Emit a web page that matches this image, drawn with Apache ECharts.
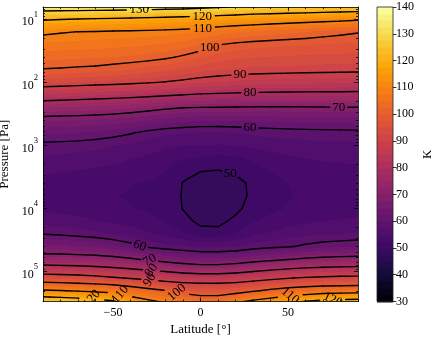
<!DOCTYPE html>
<html><head><meta charset="utf-8">
<script src="https://cdn.jsdelivr.net/npm/echarts@6/dist/echarts.min.js"></script>
<style>html,body{margin:0;padding:0;background:#fff}#c{width:436px;height:339px}</style>
</head><body><div id="c"></div>
<script>
// ---------------- data ----------------
const latitudes = [-90,-80,-70,-60,-50,-40,-30,-20,-10,0,10,20,30,40,50,60,70,80,90];
const pressures = [6.31,10,15.85,25.12,39.81,63.10,100,158.5,251.2,398.1,631.0,1000,1585,2512,3981,6310,10000,15849,25119,39811,50119,63096,79433,100000,125893,158489,199526,251189,316228];
// temperature[k] = profile (K) at latitudes[k], one value per pressure level
const temperature = [
[134.8,120.8,111.0,106.9,103.4,99.7,93.1,84.2,74.9,67.9,62.9,59.0,57.0,55.5,54.0,53.6,54.5,56.5,59.8,66.1,69.2,74.5,80.4,87.2,94.6,102.6,110.8,120.3,129.8],
[134.7,120.2,110.4,106.7,103.2,99.5,92.8,83.8,74.6,67.7,62.7,58.8,56.8,55.2,53.8,53.4,54.2,56.2,59.4,65.7,69.0,74.1,80.1,86.8,94.2,102.2,110.3,119.5,129.0],
[134.7,119.8,109.9,106.5,103.0,99.1,92.3,83.3,74.3,67.5,62.4,58.6,56.5,54.9,53.5,53.2,53.8,55.7,58.8,65.2,68.6,73.6,79.6,86.2,93.5,101.5,109.4,118.4,127.4],
[134.6,119.3,109.7,106.2,102.8,98.8,91.9,82.9,73.9,67.2,62.0,58.2,56.2,54.6,53.2,52.9,53.4,55.2,58.2,64.4,68.1,72.9,78.9,85.4,92.4,100.6,108.4,117.0,125.8],
[134.5,118.9,109.4,105.9,102.5,98.1,91.5,82.4,73.5,66.7,61.3,57.6,55.7,54.2,52.9,52.6,53.0,54.6,57.3,63.2,67.3,72.0,78.0,84.3,90.9,99.5,107.2,115.2,123.4],
[134.2,118.4,109.2,105.6,102.1,97.3,91.0,81.9,72.7,66.0,60.3,57.0,55.1,53.8,52.6,52.3,52.6,54.0,56.5,61.4,65.9,70.6,76.7,83.0,89.5,97.7,104.4,110.4,116.8],
[133.9,118.0,108.9,105.2,101.5,96.4,90.4,81.3,71.8,65.0,58.9,56.3,54.6,53.3,52.3,52.0,52.2,53.2,55.3,59.3,64.1,68.9,75.1,81.7,88.0,95.5,102.4,107.8,113.2],
[133.4,117.4,108.6,104.7,100.7,95.4,89.7,80.6,70.8,63.9,58.0,55.4,53.6,52.5,51.8,51.5,51.7,52.3,54.0,58.3,62.5,67.4,73.2,80.2,86.5,93.2,100.3,105.4,110.3],
[133.0,116.9,108.2,103.8,99.4,94.4,88.9,79.9,70.1,63.2,57.6,55.0,52.8,50.6,49.9,49.8,49.9,50.8,52.8,57.8,61.4,66.2,71.6,78.7,85.4,91.7,97.4,103.0,108.5],
[132.1,116.3,107.5,102.4,97.7,93.3,88.0,79.2,69.8,62.8,57.3,55.0,52.2,50.1,48.6,48.0,48.3,49.4,51.0,57.0,60.6,65.5,70.7,77.9,84.7,91.1,96.1,101.1,106.0],
[131.3,115.5,106.4,100.2,96.4,92.6,87.4,78.9,69.7,62.8,57.2,54.8,51.8,49.9,48.4,47.9,48.2,49.3,50.9,57.0,60.6,65.5,70.7,77.9,84.7,91.1,96.1,101.1,106.0],
[130.0,114.9,105.4,99.2,95.6,92.1,86.8,78.6,69.6,62.9,57.5,55.2,52.0,50.4,49.2,48.9,49.4,50.6,52.5,57.5,61.0,66.1,71.6,78.7,85.5,91.7,97.2,103.5,110.6],
[128.4,114.3,104.6,98.6,95.2,91.8,86.4,78.4,69.5,63.0,58.0,55.5,53.0,51.5,50.5,50.6,51.0,52.3,54.5,58.5,62.2,67.3,73.2,80.2,86.9,93.2,99.2,106.3,113.7],
[128.1,113.7,103.9,98.2,94.9,91.6,86.2,78.3,69.4,63.1,58.3,56.0,54.0,52.6,51.7,51.5,51.9,53.2,55.3,59.2,63.4,68.4,74.9,81.8,88.4,94.8,101.3,108.7,116.2],
[127.6,113.2,103.2,97.9,94.7,91.5,85.9,78.2,69.4,63.3,58.5,56.3,54.6,53.3,52.5,52.3,52.7,54.0,56.2,59.6,64.6,69.6,76.3,83.0,89.7,96.2,103.3,111.4,119.5],
[127.3,112.6,102.5,97.7,94.5,91.3,85.8,78.1,69.5,63.4,58.7,56.6,55.0,53.8,53.1,52.9,53.3,54.6,56.8,60.7,65.7,70.8,77.4,84.1,90.7,97.3,104.6,113.3,123.4],
[126.7,112.1,101.7,97.4,94.3,91.2,85.6,78.1,69.6,63.5,58.8,56.8,55.3,54.2,53.5,53.3,53.7,55.0,57.3,61.5,66.4,71.6,78.1,84.8,91.4,98.0,105.6,115.3,125.5],
[126.4,111.6,101.0,97.2,94.2,91.1,85.5,78.1,69.7,63.6,58.9,56.9,55.4,54.4,53.7,53.5,53.9,55.2,57.5,62.0,66.8,72.1,78.5,85.2,91.9,98.4,106.0,116.3,125.5],
[126.0,110.8,100.3,97.1,94.0,91.0,85.3,78.0,69.8,63.6,59.0,57.0,55.5,54.5,53.8,53.6,54.0,55.4,57.7,62.4,67.1,72.4,78.7,85.4,92.1,98.6,106.4,116.8,125.5]
];
const contourLevels = [50,60,70,80,90,100,110,120,130];
const colorbarTicks = [30,40,50,60,70,80,90,100,110,120,130,140];
const xTickValues = [-50,0,50];
const yTickExponents = [1,2,3,4,5];

// ---------------- styling / placement ----------------
const FONT = "'Liberation Serif','DejaVu Serif',serif";
const vmin = 30, vmax = 140, bandStep = 2.5;
const pMin = 6.4, pMax = 2.96e5;
// label placement hints (lat, pressure) and rotation (deg, ccw)
const contourLabels = [
  {level:130, lat:-35, p:7.1, rot:0},
  {level:120, lat:1, p:8.6, rot:0},
  {level:110, lat:1, p:12.3, rot:0},
  {level:100, lat:5, p:26.5, rot:0},
  {level:90, lat:22.6, p:82, rot:0},
  {level:80, lat:28.3, p:147, rot:0},
  {level:70, lat:79, p:245, rot:0},
  {level:60, lat:28.3, p:490, rot:0},
  {level:50, lat:17, p:2730, rot:0},
  {level:60, lat:-35, p:40700, rot:-20},
  {level:70, lat:-29, p:65300, rot:30},
  {level:80, lat:-28, p:94000, rot:55},
  {level:90, lat:-29, p:140000, rot:60},
  {level:100, lat:-13.6, p:218000, rot:40},
  {level:110, lat:-45.8, p:218000, rot:50},
  {level:120, lat:-62, p:243000, rot:50},
  {level:110, lat:51.3, p:243000, rot:-40},
  {level:120, lat:75.5, p:257000, rot:-25}
];

// inferno colormap stops
const infernoStops = [[0,'#000004'],[0.1,'#160b39'],[0.111,'#1b0c42'],[0.2,'#420a68'],[0.222,'#4b0c6b'],[0.3,'#6a176e'],[0.333,'#781c6d'],[0.4,'#932667'],[0.444,'#a52c60'],[0.5,'#bc3754'],[0.556,'#cf4446'],[0.6,'#dd513a'],[0.667,'#ed6925'],[0.7,'#f37819'],[0.778,'#fb9a06'],[0.8,'#fca50a'],[0.889,'#f7d03c'],[0.9,'#f6d746'],[1,'#fcffa4']];
function hexRgb(h){return [parseInt(h.slice(1,3),16),parseInt(h.slice(3,5),16),parseInt(h.slice(5,7),16)];}
const stopRgb = infernoStops.map(s=>[s[0],hexRgb(s[1])]);
function inferno(t){
  t=Math.max(0,Math.min(1,t));
  for(let k=1;k<stopRgb.length;k++){
    if(t<=stopRgb[k][0]){
      const a=stopRgb[k-1],b=stopRgb[k],f=(t-a[0])/(b[0]-a[0]);
      return [0,1,2].map(c=>Math.round(a[1][c]+(b[1][c]-a[1][c])*f));
    }
  }
  return stopRgb[stopRgb.length-1][1];
}
const nBands = Math.round((vmax-vmin)/bandStep);
const bandRGB = [];
for(let b=0;b<nBands;b++) bandRGB.push(inferno((b+0.5)*bandStep/(vmax-vmin)));
function bandOf(T){let b=Math.floor((T-vmin)/bandStep);return Math.max(0,Math.min(nBands-1,b));}

const logP = pressures.map(p=>Math.log10(p));
const NI = latitudes.length, NJ = pressures.length;

// field cells
const cells=[];
for(let i=0;i<NI-1;i++)for(let j=0;j<NJ-1;j++)cells.push([latitudes[i],logP[j],i,j]);

function clamp01(x){return x<0?0:(x>1?1:x);}
function renderCell(params, api){
  const i=api.value(2), j=api.value(3);
  const A=api.coord([latitudes[i],logP[j]]), B=api.coord([latitudes[i+1],logP[j+1]]);
  const X0=A[0],X1=B[0],Y0=A[1],Y1=B[1];
  const xa=Math.round(Math.min(X0,X1)), xb=Math.round(Math.max(X0,X1));
  const ya=Math.round(Math.min(Y0,Y1)), yb=Math.round(Math.max(Y0,Y1));
  const w=xb-xa,h=yb-ya; if(w<=0||h<=0) return null;
  const cv=document.createElement('canvas'); cv.width=w; cv.height=h;
  const ctx=cv.getContext('2d'); const img=ctx.createImageData(w,h);
  const t00=temperature[i][j],t10=temperature[i+1][j],t01=temperature[i][j+1],t11=temperature[i+1][j+1];
  for(let yy=0;yy<h;yy++){
    const v=clamp01((ya+yy+0.5-Y0)/(Y1-Y0));
    for(let xx=0;xx<w;xx++){
      const u=clamp01((xa+xx+0.5-X0)/(X1-X0));
      const T=(1-u)*(1-v)*t00+u*(1-v)*t10+(1-u)*v*t01+u*v*t11;
      const c=bandRGB[bandOf(T)]; const k=(yy*w+xx)*4;
      img.data[k]=c[0];img.data[k+1]=c[1];img.data[k+2]=c[2];img.data[k+3]=255;
    }
  }
  ctx.putImageData(img,0,0);
  return {type:'image',style:{image:cv,x:xa,y:ya,width:w,height:h}};
}

// marching squares in (lat, log p) space
function marching(L){
  const segs=[];
  for(let i=0;i<NI-1;i++)for(let j=0;j<NJ-1;j++){
    const cp=[[latitudes[i],logP[j]],[latitudes[i+1],logP[j]],[latitudes[i+1],logP[j+1]],[latitudes[i],logP[j+1]]];
    const v=[temperature[i][j],temperature[i+1][j],temperature[i+1][j+1],temperature[i][j+1]];
    const up=v.map(x=>x>=L);
    const pts=[];
    for(let e=0;e<4;e++){
      const a=e,b=(e+1)%4;
      if(up[a]!==up[b]){
        const t=(L-v[a])/(v[b]-v[a]);
        pts[e]=[cp[a][0]+(cp[b][0]-cp[a][0])*t,cp[a][1]+(cp[b][1]-cp[a][1])*t];
      }
    }
    const idx=[0,1,2,3].filter(e=>pts[e]);
    if(idx.length===2) segs.push([pts[idx[0]],pts[idx[1]]]);
    else if(idx.length===4){
      const center=(v[0]+v[1]+v[2]+v[3])/4;
      if((center>=L)===up[0]){segs.push([pts[0],pts[1]]);segs.push([pts[2],pts[3]]);}
      else{segs.push([pts[3],pts[0]]);segs.push([pts[1],pts[2]]);}
    }
  }
  return segs;
}
const segsByLevel={};
contourLevels.forEach(L=>segsByLevel[L]=marching(L));

function closestOnSeg(P,A,B){
  const dx=B[0]-A[0],dy=B[1]-A[1],l2=dx*dx+dy*dy;
  let t=l2>0?((P[0]-A[0])*dx+(P[1]-A[1])*dy)/l2:0; t=clamp01(t);
  return [A[0]+dx*t,A[1]+dy*t];
}
function cutPieces(pieces,s,h){
  const P0=s[0],P1=s[1],dx=P1[0]-P0[0],dy=P1[1]-P0[1];
  const fx=P0[0]-h.c[0],fy=P0[1]-h.c[1];
  const a=dx*dx+dy*dy; if(a<1e-9) return pieces;
  const b=2*(fx*dx+fy*dy),c=fx*fx+fy*fy-h.r*h.r;
  const disc=b*b-4*a*c; if(disc<=0) return pieces;
  const sq=Math.sqrt(disc),t1=(-b-sq)/(2*a),t2=(-b+sq)/(2*a);
  const out=[];
  pieces.forEach(([u,v])=>{
    if(v<=t1||u>=t2){out.push([u,v]);return;}
    if(u<t1) out.push([u,t1]);
    if(v>t2) out.push([t2,v]);
  });
  return out;
}
function renderContours(params,api){
  const children=[];
  const pxSegs={};
  contourLevels.forEach(L=>{pxSegs[L]=segsByLevel[L].map(s=>[api.coord(s[0]),api.coord(s[1])]);});
  const holes={};
  const texts=[];
  contourLabels.forEach(lb=>{
    const A=api.coord([lb.lat,Math.log10(lb.p)]);
    let best=null,bd=Infinity;
    pxSegs[lb.level].forEach(s=>{const q=closestOnSeg(A,s[0],s[1]);const d=(q[0]-A[0])**2+(q[1]-A[1])**2;if(d<bd){bd=d;best=q;}});
    if(!best) return;
    const r=String(lb.level).length*4+1;
    (holes[lb.level]=holes[lb.level]||[]).push({c:best,r:r});
    texts.push({type:'text',x:best[0],y:best[1],rotation:lb.rot*Math.PI/180,
      style:{text:String(lb.level),fill:'#000',font:'13px '+FONT,align:'center',verticalAlign:'middle'}});
  });
  contourLevels.forEach(L=>{
    pxSegs[L].forEach(s=>{
      let pieces=[[0,1]];
      (holes[L]||[]).forEach(h=>{pieces=cutPieces(pieces,s,h);});
      pieces.forEach(pc=>{
        const a=[s[0][0]+(s[1][0]-s[0][0])*pc[0],s[0][1]+(s[1][1]-s[0][1])*pc[0]];
        const b=[s[0][0]+(s[1][0]-s[0][0])*pc[1],s[0][1]+(s[1][1]-s[0][1])*pc[1]];
        children.push({type:'line',shape:{x1:a[0],y1:a[1],x2:b[0],y2:b[1]},style:{stroke:'#000',lineWidth:1.4,lineCap:'round'}});
      });
    });
  });
  return {type:'group',children:children.concat(texts)};
}

// colorbar
function renderColorbar(params,api){
  const children=[];
  for(let b=0;b<nBands;b++){
    const lo=vmin+b*bandStep,hi=lo+bandStep;
    const A=api.coord([0,lo]),B=api.coord([1,hi]);
    const y0=Math.round(Math.min(A[1],B[1])),y1=Math.round(Math.max(A[1],B[1]));
    const c=bandRGB[b];
    children.push({type:'rect',shape:{x:A[0],y:y0,width:B[0]-A[0],height:y1-y0+0.5},style:{fill:'rgb('+c.join(',')+')'}});
  }
  const A=api.coord([0,vmin]),B=api.coord([1,vmax]);
  children.push({type:'rect',shape:{x:A[0],y:B[1],width:B[0]-A[0],height:A[1]-B[1]},style:{fill:null,stroke:'#222',lineWidth:0.8}});
  return {type:'group',children};
}

const yMinor=[];
for(let n=0;n<=5;n++)for(let m=2;m<=9;m++){const p=m*Math.pow(10,n);if(p>pMin&&p<pMax)yMinor.push(Math.log10(p));}
const xMinor=[];for(let x=-90;x<=90;x+=10)xMinor.push(x);

const tickLine={color:'#000',width:0.8};
const base={type:'value',gridIndex:0,splitLine:{show:false},z:10};
function xAx(pos,major){
  return Object.assign({},base,{min:-90,max:90,position:pos,
    axisLine:{show:major,onZero:false,lineStyle:{color:'#000',width:0.8}},
    axisTick:{show:true,inside:true,length:major?4:2,customValues:major?xTickValues:xMinor,lineStyle:tickLine},
    axisLabel:{show:major&&pos==='bottom',customValues:xTickValues,margin:5,color:'#000',fontFamily:FONT,fontSize:12,
      formatter:v=>v<0?'\u2212'+(-v):String(v)},
    name:(major&&pos==='bottom')?'Latitude [°]':'',nameLocation:'middle',nameGap:20,
    nameTextStyle:{color:'#000',fontFamily:FONT,fontSize:13}});
}
function yAx(pos,major){
  return Object.assign({},base,{min:Math.log10(pMin),max:Math.log10(pMax),inverse:true,position:pos,
    axisLine:{show:major,onZero:false,lineStyle:{color:'#000',width:0.8}},
    axisTick:{show:true,inside:true,length:major?4:2,customValues:major?yTickExponents:yMinor,lineStyle:tickLine},
    axisLabel:{show:major&&pos==='left',customValues:yTickExponents,margin:5,
      formatter:v=>'{b|10}{e|'+Math.round(v)+'}',
      rich:{b:{fontFamily:FONT,fontSize:12,color:'#000',lineHeight:18,verticalAlign:'bottom'},
            e:{fontFamily:FONT,fontSize:8.5,color:'#000',lineHeight:9,verticalAlign:'top'}}},
    name:(major&&pos==='left')?'Pressure [Pa]':'',nameLocation:'middle',nameGap:25,
    nameTextStyle:{color:'#000',fontFamily:FONT,fontSize:13}});
}

const option={
  animation:false,
  backgroundColor:'#fff',
  textStyle:{fontFamily:FONT},
  grid:[
    {left:43,top:7,width:315,height:294.5,containLabel:false,outerBoundsMode:'none'},
    {left:377,top:7,width:16,height:294.5,containLabel:false,outerBoundsMode:'none'}
  ],
  xAxis:[xAx('bottom',true),xAx('bottom',false),xAx('top',true),xAx('top',false),
    {type:'value',gridIndex:1,min:0,max:1,show:false}],
  yAxis:[yAx('left',true),yAx('left',false),yAx('right',true),yAx('right',false),
    {type:'value',gridIndex:1,min:vmin,max:vmax,interval:10,position:'right',z:10,
     axisLine:{show:false,onZero:false},splitLine:{show:false},
     axisTick:{show:true,inside:false,length:3.5,lineStyle:tickLine},
     axisLabel:{margin:3,color:'#000',fontFamily:FONT,fontSize:12},
     name:'K',nameLocation:'middle',nameGap:28,nameRotate:90,
     nameTextStyle:{color:'#000',fontFamily:FONT,fontSize:13}}],
  series:[
    {type:'custom',xAxisIndex:0,yAxisIndex:0,clip:true,z:1,renderItem:renderCell,data:cells,encode:{x:0,y:1},silent:true},
    {type:'custom',xAxisIndex:0,yAxisIndex:0,clip:true,z:3,renderItem:renderContours,data:[[0,3]],encode:{x:0,y:1},silent:true},
    {type:'custom',xAxisIndex:4,yAxisIndex:4,clip:false,z:3,renderItem:renderColorbar,data:[[0.5,85]],encode:{x:0,y:1},silent:true}
  ]
};
const chart=echarts.init(document.getElementById('c'),null,{renderer:'canvas'});
chart.setOption(option);
</script>
</body></html>
